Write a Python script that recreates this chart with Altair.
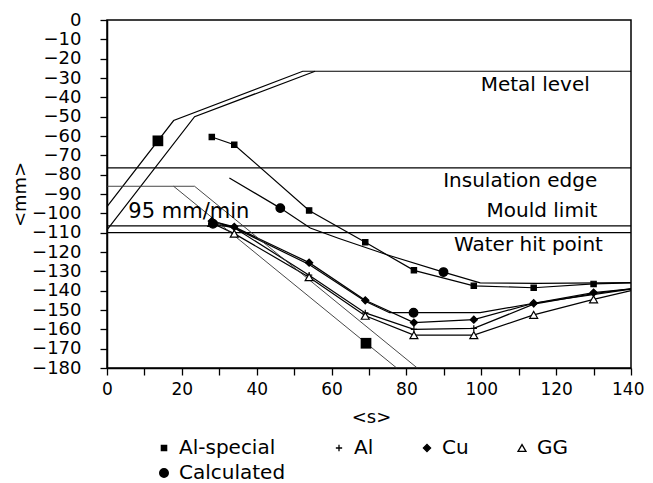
import altair as alt
import pandas as pd

FONT = "DejaVu Sans"

# ---- measured series (time in s, position in mm) ----
t_meas = [28, 34, 54, 69, 82, 98, 114, 130, 140]
al_special = [-60.5, -64.5, -98.5, -115, -129.5, -137.5, -138.5, -136.5, -136]
al = [-104, -107.5, -132, -151.5, -160, -159.5, -147, -141.5, -139]
cu = [-104, -107, -125.5, -145, -156.5, -155, -146.5, -141, -139]
gg = [-105, -110.5, -133, -153, -163, -163, -152.5, -144.5, -140]

# ---- calculated curves and points ----
calc_upper_x = [32.7, 46.3, 54.3, 62, 74.8, 89.9, 99.7, 115, 140]
calc_upper_y = [-81.7, -97.3, -107.6, -113, -121.4, -130.4, -136, -136.2, -135.8]
calc_lower_x = [28.3, 34, 54, 69, 75.5, 99.7, 114, 140]
calc_lower_y = [-105.4, -107.5, -126.5, -145.5, -151.4, -151.4, -146.5, -139.2]
calc_pts_x = [28.3, 46.3, 81.9, 89.9]
calc_pts_y = [-105.4, -97.3, -151.4, -130.4]

# ---- construction lines ----
metal1_x = [0, 17.8, 52.3, 140]
metal1_y = [-96.5, -52, -26.5, -26.5]
metal2_x = [0, 23.4, 55.6]
metal2_y = [-108.5, -50, -26.5]
insul_y = -76.5
mould_y = -106.5
water_y = -110
fall1_x = [17.8, 77.4]
fall1_y = [-86, -180]
fall2_x = [0, 23.4, 82.9]
fall2_y = [-86, -86, -180]

big_sq_x = [13.6, 69.2]
big_sq_y = [-62.5, -167.2]

ann_text = ["Metal level", "Insulation edge", "Mould limit", "Water hit point"]
ann_x = [129, 131, 131, 132.5]
ann_y = [-33.8, -83.5, -99, -116.3]

rate_text = ["95 mm/min"]
rate_x = [5.7]
rate_y = [-99.4]

legend_order = ["Al-special", "Al", "Cu", "GG", "Calculated"]

# ---- build tables ----
line_rows = []
def add_line(name, xs, ys, kind):
    for i, (x, y) in enumerate(zip(xs, ys)):
        line_rows.append({"line": name, "x": x, "y": y, "o": i, "kind": kind})

add_line("Al-special", t_meas, al_special, "series")
add_line("Al", t_meas, al, "series")
add_line("Cu", t_meas, cu, "series")
add_line("GG", t_meas, gg, "series")
add_line("calc_up", calc_upper_x, calc_upper_y, "series")
add_line("calc_low", calc_lower_x, calc_lower_y, "series")
add_line("metal1", metal1_x, metal1_y, "ref")
add_line("metal2", metal2_x, metal2_y, "ref")
add_line("insul", [0, 140], [insul_y, insul_y], "ref")
add_line("mould", [0, 140], [mould_y, mould_y], "ref")
add_line("water", [0, 140], [water_y, water_y], "ref")
add_line("fall1", fall1_x, fall1_y, "thin")
add_line("fall2", fall2_x, fall2_y, "thin")
lines_df = pd.DataFrame(line_rows)

pt_rows = []
for name, ys in [("Al-special", al_special), ("Al", al), ("Cu", cu), ("GG", gg)]:
    for x, y in zip(t_meas, ys):
        if x < 140:
            pt_rows.append({"series": name, "x": x, "y": y})
for x, y in zip(calc_pts_x, calc_pts_y):
    pt_rows.append({"series": "Calculated", "x": x, "y": y})
pts_df = pd.DataFrame(pt_rows)

sq_df = pd.DataFrame({"x": big_sq_x, "y": big_sq_y})
ann_df = pd.DataFrame({"t": ann_text, "x": ann_x, "y": ann_y})
rate_df = pd.DataFrame({"t": rate_text, "x": rate_x, "y": rate_y})

xscale = alt.Scale(domain=[0, 140], nice=False, zero=False)
yscale = alt.Scale(domain=[-180, 0], nice=False, zero=False)

xaxis = alt.Axis(
    values=list(range(0, 141, 10)),
    labelExpr="datum.value % 20 == 0 ? datum.label : ''",
    labelAlign={"expr": "datum.value >= 140 ? 'right' : 'center'"},
    labelOffset={"expr": "datum.value >= 140 ? 13 : 0"},
    title="<s>", titleX=264, titleY=49, titleBaseline="middle",
    titleFont=FONT, titleFontSize=18, titleFontWeight="normal", titleColor="black",
    labelFont=FONT, labelFontSize=17, labelColor="black", labelPadding=6,
    labelFlush=False, labelOverlap=False,
    tickSize=7, tickColor="black", tickWidth=1.3,
    domainColor="black", domainWidth=1.5, grid=False,
)
yaxis = alt.Axis(
    values=list(range(-180, 1, 10)),
    title="<mm>", titleX=-87, titleY=174, titleAngle=270, titleBaseline="middle",
    titleFont=FONT, titleFontSize=18, titleFontWeight="normal", titleColor="black",
    labelFont=FONT, labelFontSize=18, labelColor="black", labelPadding=19,
    labelFlush=False, labelOverlap=False,
    tickSize=7, tickColor="black", tickWidth=1.3,
    domainColor="black", domainWidth=1.5, grid=False,
)

X = alt.X("x:Q", scale=xscale, axis=xaxis)
Y = alt.Y("y:Q", scale=yscale, axis=yaxis)

base_lines = alt.Chart(lines_df).transform_filter("datum.kind != 'thin'").mark_line(
    color="black", strokeWidth=1.2
).encode(x=X, y=Y, detail="line:N", order="o:Q")

thin_lines = alt.Chart(lines_df).transform_filter("datum.kind == 'thin'").mark_line(
    color="#333", strokeWidth=0.9
).encode(x=X, y=Y, detail="line:N", order="o:Q")

leg = alt.Legend(
    title=None, orient="none", legendX=47, legendY=418, direction="horizontal",
    columns=4, columnPadding=43, rowPadding=5, padding=0,
    labelFont=FONT, labelFontSize=20, labelColor="black", labelOffset=5,
    symbolStrokeWidth=1.3,
)
shape_scale = alt.Scale(domain=legend_order,
                        range=["square", "M-1,0H1M0,-1V1", "diamond", "triangle-up", "circle"])
size_scale = alt.Scale(domain=legend_order, range=[28, 75, 32, 40, 110])
fill_scale = alt.Scale(domain=legend_order,
                       range=["black", "transparent", "black", "white", "black"])
stroke_scale = alt.Scale(domain=legend_order,
                         range=["black", "black", "black", "black", "black"])

points = alt.Chart(pts_df).mark_point(
    filled=True, opacity=1, strokeWidth=1.2
).encode(
    x=X, y=Y,
    shape=alt.Shape("series:N", scale=shape_scale, legend=leg),
    size=alt.Size("series:N", scale=size_scale, legend=leg),
    fill=alt.Fill("series:N", scale=fill_scale, legend=leg),
    stroke=alt.Stroke("series:N", scale=stroke_scale, legend=leg),
)

squares = alt.Chart(sq_df).mark_point(
    shape="square", size=115, filled=True, color="black", opacity=1
).encode(x=X, y=Y)

ann = alt.Chart(ann_df).mark_text(
    align="right", baseline="middle", font=FONT, fontSize=20, color="black"
).encode(x=X, y=Y, text="t:N")

rate = alt.Chart(rate_df).mark_text(
    align="left", baseline="middle", font=FONT, fontSize=21, color="black"
).encode(x=X, y=Y, text="t:N")

chart = alt.layer(base_lines, thin_lines, squares, points, ann, rate).properties(
    width=524, height=348,
    padding={"left": 99, "top": 12, "right": 14, "bottom": 115},
    autosize=alt.AutoSizeParams(type="none"),
    background="white",
).configure_view(stroke="black", strokeWidth=1.5)

chart.save("out.html", embed_options={"renderer": "svg", "actions": False})
